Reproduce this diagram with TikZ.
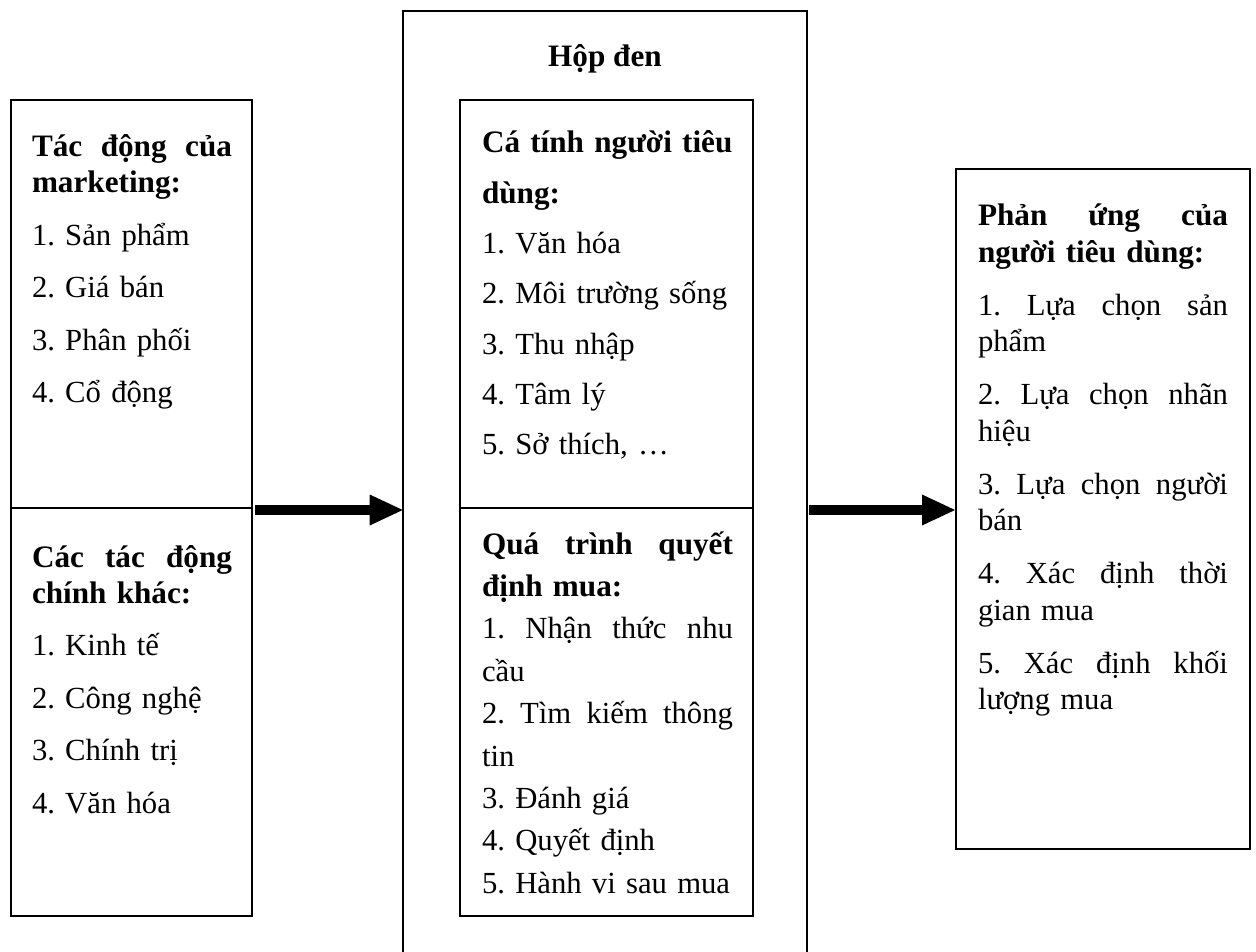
\documentclass[tikz,border=0pt]{standalone}
\usepackage{fontspec}
\setmainfont{Liberation Serif}
\usetikzlibrary{arrows.meta}
\newcommand{\bodyfont}[1]{\fontsize{30.7}{#1}\selectfont\frenchspacing\setlength{\lineskiplimit}{-200pt}}
% bold heading text, a little larger than the list items
\newcommand{\hd}[1]{{\fontsize{31.2}{\baselineskip}\selectfont\bfseries #1}}
% a line set flush to both margins of its column
\newcommand{\full}[2]{\makebox[#1][s]{\spaceskip=\fontdimen2\font plus 1fil\relax #2}}
\begin{document}
\begin{tikzpicture}[x=1pt,y=-1pt]
\tikzset{
  frame/.style={draw=black, line width=1.6pt, rectangle, inner sep=0pt, outer sep=0pt},
  divider/.style={draw=black, line width=1.6pt},
  bigarrow/.style={draw=black, line width=10pt, -{Triangle[length=33pt,width=31pt,line width=0pt]}},
  body/.style={inner sep=0pt, outer sep=0pt, anchor=base west, align=left, text width=320pt},
  tight/.style={font={\bodyfont{36pt}}},
  loose/.style={font={\bodyfont{50.3pt}}},
  mid/.style={font={\bodyfont{42.4pt}}},
  resp/.style={font={\bodyfont{36.5pt}}},
}
\useasboundingbox (0,0) rectangle (1256,952);
\clip (0,0) rectangle (1256,952);

% left column: marketing stimuli and other stimuli
\node[frame, minimum width=241pt, minimum height=816pt] (lbox) at (131.5,508) {};
\draw[divider] (lbox.west) -- (lbox.east);

% black box with its inner two-part frame
\node[frame, minimum width=404pt, minimum height=994pt] (outer) at (604.7,508) {};
\node[frame, minimum width=293pt, minimum height=816pt] (ibox) at (606.7,508) {};
\draw[divider] (ibox.west) -- (ibox.east);

% right column: buyer responses
\node[frame, minimum width=294pt, minimum height=680pt] (rbox) at (1103,509) {};

% connectors
\coordinate (ay) at (0,510);
\draw[bigarrow] ([xshift=3pt]lbox.east |- ay) -- (outer.west |- ay);
\draw[bigarrow] ([xshift=2.5pt]outer.east |- ay) -- ([xshift=-1pt]rbox.west |- ay);

% texts
\node[inner sep=0pt, anchor=base, font={\bodyfont{36pt}}] (title) at (605,67) {\hd{Hộp đen}};

\node[body, tight] (mkt) at (32,157) {%
\hd{\full{200pt}{Tác động của}}\\
\hd{marketing:}\\[16.5pt]
1. Sản phẩm\\[16.5pt]
2. Giá bán\\[16.5pt]
3. Phân phối\\[16.5pt]
4. Cổ động};

\node[body, tight] (oth) at (32,567) {%
\hd{\full{200pt}{Các tác động}}\\
\hd{chính khác:}\\[16.5pt]
1. Kinh tế\\[16.5pt]
2. Công nghệ\\[16.5pt]
3. Chính trị\\[16.5pt]
4. Văn hóa};

\node[body, loose] (pers) at (482,153) {%
\hd{Cá tính người tiêu}\\
\hd{dùng:}\\
1. Văn hóa\\
2. Môi trường sống\\
3. Thu nhập\\
4. Tâm lý\\
5. Sở thích, …};

\node[body, mid] (proc) at (482,554) {%
\hd{\full{251pt}{Quá trình quyết}}\\
\hd{định mua:}\\
\full{251pt}{1. Nhận thức nhu}\\
cầu\\
\full{251pt}{2. Tìm kiếm thông}\\
tin\\
3. Đánh giá\\
4. Quyết định\\
5. Hành vi sau mua};

\node[body, resp] (react) at (978,226) {%
\hd{\full{250pt}{Phản ứng của}}\\
\hd{người tiêu dùng:}\\[16.5pt]
\full{250pt}{1. Lựa chọn sản}\\
phẩm\\[16.5pt]
\full{250pt}{2. Lựa chọn nhãn}\\
hiệu\\[16.5pt]
\full{250pt}{3. Lựa chọn người}\\
bán\\[16.5pt]
\full{250pt}{4. Xác định thời}\\
gian mua\\[16.5pt]
\full{250pt}{5. Xác định khối}\\
lượng mua};
\end{tikzpicture}
\end{document}
